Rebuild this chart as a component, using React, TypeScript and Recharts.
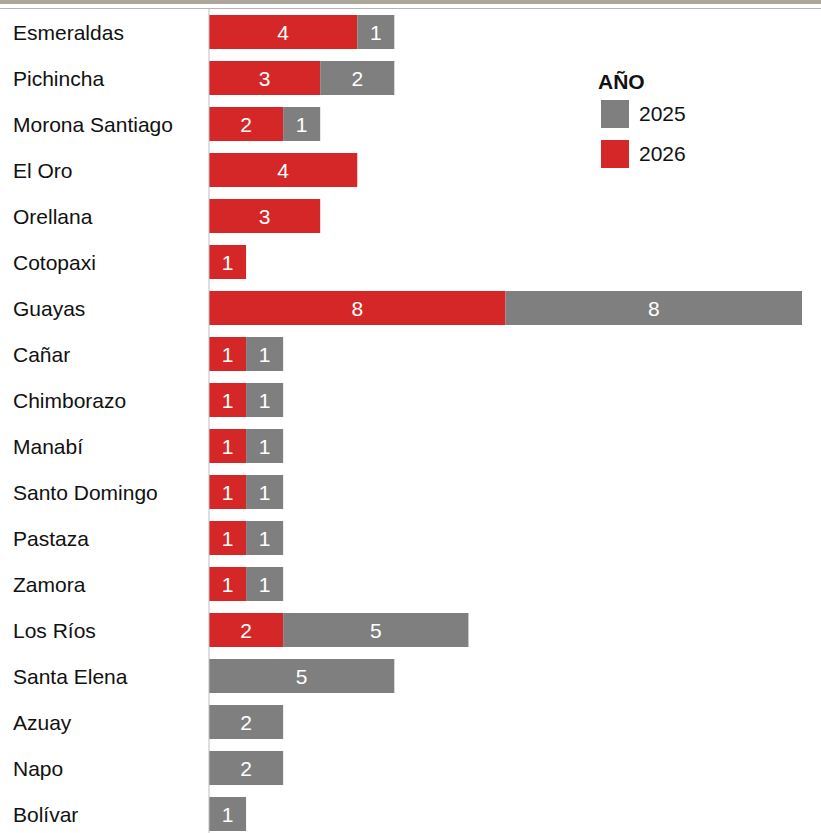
import React from 'react';
import { BarChart, Bar, XAxis, YAxis, LabelList } from 'recharts';

const provinces = [
  'Esmeraldas', 'Pichincha', 'Morona Santiago', 'El Oro', 'Orellana', 'Cotopaxi',
  'Guayas', 'Cañar', 'Chimborazo', 'Manabí', 'Santo Domingo', 'Pastaza', 'Zamora',
  'Los Ríos', 'Santa Elena', 'Azuay', 'Napo', 'Bolívar',
];
const values2026 = [4, 3, 2, 4, 3, 1, 8, 1, 1, 1, 1, 1, 1, 2, 0, 0, 0, 0];
const values2025 = [1, 2, 1, 0, 0, 0, 8, 1, 1, 1, 1, 1, 1, 5, 5, 2, 2, 1];
const legendYears = ['2025', '2026'];

const RED = '#d62728';
const GRAY = '#7f7f7f';
const FONT = '"Liberation Sans", Arial, sans-serif';

const data = provinces.map((name, i) => ({
  name,
  y2026: values2026[i],
  y2025: values2025[i],
}));

const ProvinceTick = (props: any) => {
  const { y, payload } = props;
  return (
    <text x={13} y={y} dominantBaseline="central" textAnchor="start" fontSize={21} fill="#111" fontFamily={FONT}>
      {payload.value}
    </text>
  );
};

const BarValue = (props: any) => {
  const { x, y, width, height, value } = props;
  if (!value) return null;
  return (
    <text x={x + width / 2} y={y + height / 2} dominantBaseline="central" textAnchor="middle" fontSize={21} fill="#fff" fontFamily={FONT}>
      {value}
    </text>
  );
};

const YearLegend = () => (
  <div style={{ position: 'absolute', left: 601, top: 70, fontFamily: FONT, color: '#111' }}>
    <div style={{ fontWeight: 'bold', fontSize: 21, marginLeft: -3, lineHeight: '24px' }}>AÑO</div>
    {legendYears.map((year, i) => (
      <div key={year} style={{ display: 'flex', alignItems: 'center', height: 40 }}>
        <div style={{ width: 28, height: 28, background: i === 0 ? GRAY : RED, marginRight: 10 }} />
        <span style={{ fontSize: 21 }}>{year}</span>
      </div>
    ))}
  </div>
);

export default function App() {
  return (
    <div style={{ position: 'absolute', left: 0, top: 0, width: 821, height: 833, overflow: 'hidden', background: '#fff' }}>
      <div style={{ position: 'absolute', left: 0, top: 0, width: 821, height: 4, background: '#aca899' }} />
      <div style={{ position: 'absolute', left: 0, top: 8, width: 821, height: 1, background: '#b5b5b5' }} />
      <BarChart
        width={821}
        height={840}
        data={data}
        layout="vertical"
        margin={{ top: 9, right: 19, bottom: 3, left: 0 }}
        barSize={34}
      >
        <XAxis type="number" domain={[0, 16]} hide />
        <YAxis
          type="category"
          dataKey="name"
          width={209}
          tick={<ProvinceTick />}
          tickLine={false}
          axisLine={{ stroke: '#bdbdbd' }}
          interval={0}
        />
        <Bar dataKey="y2026" stackId="a" fill={RED} isAnimationActive={false}>
          <LabelList dataKey="y2026" content={<BarValue />} />
        </Bar>
        <Bar dataKey="y2025" stackId="a" fill={GRAY} isAnimationActive={false}>
          <LabelList dataKey="y2025" content={<BarValue />} />
        </Bar>
      </BarChart>
      <YearLegend />
    </div>
  );
}
